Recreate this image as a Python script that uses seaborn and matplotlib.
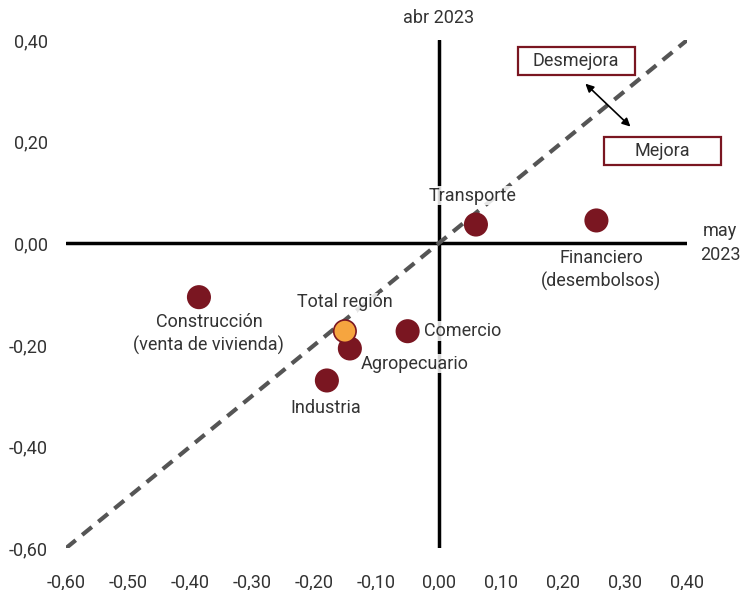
import matplotlib
matplotlib.use("Agg")
import matplotlib.pyplot as plt
from matplotlib.patches import Rectangle
import seaborn as sns
import pandas as pd

# --- data (may 2023 vs abr 2023) ---
sectores = ["Transporte", "Financiero\n(desembolsos)", "Construcción\n(venta de vivienda)",
            "Comercio", "Agropecuario", "Industria", "Total región"]
may_2023 = [0.06, 0.254, -0.386, -0.05, -0.143, -0.18, -0.151]
abr_2023 = [0.037, 0.045, -0.106, -0.173, -0.207, -0.27, -0.173]
tipo = ["sector"] * 6 + ["total"]

x_ticks = [-0.6, -0.5, -0.4, -0.3, -0.2, -0.1, 0.0, 0.1, 0.2, 0.3, 0.4]
y_ticks = [-0.6, -0.4, -0.2, 0.0, 0.2, 0.4]

df = pd.DataFrame({"sector": sectores, "may": may_2023, "abr": abr_2023, "tipo": tipo})

RED = "#7a1621"
ORANGE = "#f6a53f"
TXT = "#333333"
FS = 13

sns.set_style("white")
plt.rcParams["font.family"] = ["Roboto", "DejaVu Sans"]

fig = plt.figure(figsize=(7.42, 5.9), dpi=100)
ax = fig.add_axes([0.089, 0.071, 0.837, 0.861])

# cross axes and 45 degree line
ax.plot([0, 0], [-0.6, 0.4], color="black", lw=2.5, zorder=1)
ax.plot([-0.6, 0.4], [0, 0], color="black", lw=2.5, zorder=1)
ax.plot([-0.6, 0.4], [-0.6, 0.4], color="#555555", lw=3, ls=(0, (3, 2)), zorder=2)

sns.scatterplot(data=df, x="may", y="abr", hue="tipo", palette={"sector": RED, "total": ORANGE},
                s=260, edgecolor=RED, linewidth=1.2, legend=False, ax=ax, zorder=5, clip_on=False)

lbl = dict(fontsize=FS, color=TXT, zorder=4, linespacing=1.3,
           bbox=dict(facecolor="white", edgecolor="none", pad=0.5, alpha=0.85))
offsets = {
    "Transporte": (-0.005, 0.057, "center"),
    "Financiero\n(desembolsos)": (0.008, -0.098, "center"),
    "Construcción\n(venta de vivienda)": (0.016, -0.072, "center"),
    "Comercio": (0.027, 0.0, "left"),
    "Agropecuario": (0.018, -0.03, "left"),
    "Industria": (-0.002, -0.055, "center"),
    "Total región": (0.0, 0.057, "center"),
}
for s, xv, yv in zip(sectores, may_2023, abr_2023):
    dx, dy, ha = offsets[s]
    ax.text(xv + dx, yv + dy, s, ha=ha, va="center", **lbl)

ax.text(0.0, 0.443, "abr 2023", ha="center", va="center", fontsize=FS, color=TXT)
ax.text(0.453, 0.0, "may\n2023", ha="center", va="center", fontsize=FS, color=TXT, linespacing=1.45)

# Desmejora / Mejora boxes
for (x0, x1, y0, y1), word in [((0.127, 0.316, 0.331, 0.386), "Desmejora"),
                               ((0.266, 0.454, 0.154, 0.209), "Mejora")]:
    ax.add_patch(Rectangle((x0, y0), x1 - x0, y1 - y0, facecolor="white", edgecolor=RED,
                           lw=1.6, zorder=6, clip_on=False))
    ax.text((x0 + x1) / 2, (y0 + y1) / 2, word, ha="center", va="center", fontsize=FS,
            color=TXT, zorder=7)
ax.annotate("", xy=(0.233, 0.318), xytext=(0.312, 0.226),
            arrowprops=dict(arrowstyle="<|-|>", color="black", lw=1.2, mutation_scale=12), zorder=6)

ax.set_xlim(-0.6, 0.4)
ax.set_ylim(-0.6, 0.4)
ax.set_xticks(x_ticks)
ax.set_yticks(y_ticks)
ax.set_xticklabels([f"{v:.2f}".replace(".", ",") for v in x_ticks])
ax.set_yticklabels([f"{v:.2f}".replace(".", ",") for v in y_ticks])
ax.tick_params(axis="x", length=0, pad=18, labelsize=FS, labelcolor=TXT)
ax.tick_params(axis="y", length=0, pad=13, labelsize=FS, labelcolor=TXT)
ax.set_xlabel("")
ax.set_ylabel("")
sns.despine(ax=ax, left=True, bottom=True)

fig.savefig("out.png", dpi=100)
